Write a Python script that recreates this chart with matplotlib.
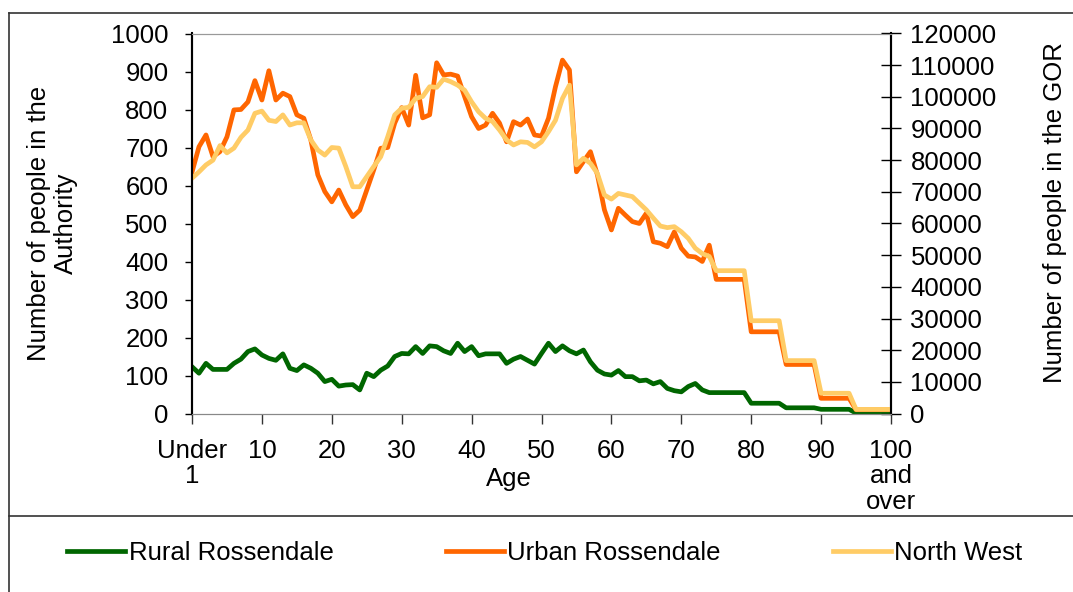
import matplotlib
matplotlib.use('Agg')
import matplotlib.pyplot as plt
from matplotlib.lines import Line2D
import numpy as np

plt.rcParams['font.family'] = ['Liberation Sans', 'DejaVu Sans']

# single years of age 0..100 (100 = "100 and over"); 75+ given in 5-year bands
ages = list(range(101))

rural = [123, 106, 132, 116, 116, 116, 132, 143, 163, 170,
         154, 145, 140, 157, 119, 113, 128, 119, 106, 84,
         90, 72, 75, 76, 62, 106, 97, 114, 125, 150,
         158, 157, 176, 158, 178, 176, 165, 158, 185, 163,
         176, 152, 157, 157, 157, 132, 143, 150, 140, 130,
         158, 185, 163, 178, 165, 157, 167, 136, 114, 104,
         101, 113, 97, 97, 86, 88, 78, 84, 66, 60,
         57, 71, 79, 62, 55] + [55] * 5 + [27] * 5 + [15] * 5 + [11] * 5 + [1] * 6

urban = [635, 702, 733, 676, 689, 728, 799, 800, 820, 876,
         825, 902, 825, 843, 834, 786, 777, 720, 628, 584,
         557, 588, 549, 518, 535, 588, 641, 698, 700, 764,
         805, 759, 890, 778, 786, 923, 891, 893, 888, 834,
         781, 750, 759, 790, 764, 715, 768, 759, 775, 733,
         730, 777, 860, 930, 904, 636, 663, 689, 628, 536,
         483, 540, 522, 505, 500, 527, 452, 448, 439, 478,
         435, 414, 412, 400, 443] + [353] * 5 + [215] * 5 + [129] * 5 + [40] * 5 + [10] * 6

north_west = [74300, 76300, 78500, 80000, 84600, 82300, 83800, 87200, 89500, 94800,
              95500, 92600, 92200, 94300, 91100, 91800, 91800, 86400, 83200, 81600,
              84000, 83800, 78000, 71600, 71600, 74800, 78000, 81100, 87400, 94300,
              96400, 96700, 99500, 100100, 103200, 103000, 105600, 104800, 103700, 102100,
              98400, 95300, 93200, 92200, 89500, 86400, 84800, 85800, 85600, 84200,
              85800, 89000, 92600, 99500, 103700, 78500, 80600, 79000, 75800, 69000,
              67700, 69500, 69000, 68500, 66400, 64300, 61700, 59200, 58700, 59000,
              57400, 55300, 52200, 50500, 49600] + [45100] * 5 + [29300] * 5 + [16700] * 5 + [6400] * 5 + [1300] * 6

x_ticks = [0, 10, 20, 30, 40, 50, 60, 70, 80, 90, 100]
x_labels = ['Under\n1', '10', '20', '30', '40', '50', '60', '70', '80', '90', '100\nand\nover']

GREEN = '#006600'
ORANGE = '#FF6600'
YELLOW = '#FFCC66'
FS = 18.5

W, H = 1073, 592
fig = plt.figure(figsize=(W / 100, H / 100), dpi=100)
ax = fig.add_axes([192 / W, 1 - 413.5 / H, (891 - 192) / W, 380 / H])
ax2 = ax.twinx()

l1, = ax.plot(ages, rural, color=GREEN, lw=3.4, label='Rural Rossendale')
l2, = ax.plot(ages, urban, color=ORANGE, lw=3.4, label='Urban Rossendale')
l3, = ax2.plot(ages, north_west, color=YELLOW, lw=3.4, label='North West')

ax.set_xlim(0, 100)
ax.set_ylim(0, 1000)
ax2.set_ylim(0, 120000)
ax.set_yticks(np.arange(0, 1001, 100))
ax2.set_yticks(np.arange(0, 120001, 10000))
ax.set_xticks(x_ticks)
ax.set_xticklabels(x_labels, fontsize=FS, linespacing=1.1)

ax.tick_params(axis='y', direction='out', length=5, width=1, labelsize=FS, pad=12)
ax.tick_params(axis='x', direction='out', length=7, width=1, color='#333333', pad=11)
ax2.tick_params(axis='y', direction='inout', length=14, width=1, labelsize=FS, pad=7)

for a in (ax, ax2):
    a.spines['top'].set_color('#999999')
    a.spines['bottom'].set_color('#888888')
    a.spines['left'].set_color('black')
    a.spines['right'].set_color('black')
    a.spines['left'].set_linewidth(1.5)
    a.spines['right'].set_linewidth(1.5)

ax.set_xlabel('Age', fontsize=FS)
ax.xaxis.set_label_coords((509 - 192) / 699, -0.14)
ax.set_ylabel('Number of people in the\nAuthority', fontsize=FS, linespacing=1.15)
ax.yaxis.set_label_coords(-0.163, 0.5)
ax2.set_ylabel('Number of people in the GOR', fontsize=FS)
ax2.yaxis.set_label_coords(1.217, 0.53)

fig.legend(handles=[l1, l2, l3], loc='center', bbox_to_anchor=(545 / W, 1 - 553 / H),
           ncol=3, frameon=False, fontsize=FS, handlelength=2.25, handletextpad=0.15,
           columnspacing=4.35)

# outer chart frame
fig.add_artist(Line2D([9 / W, 9 / W], [0, 1 - 13 / H], color='#333333', lw=1.2))
fig.add_artist(Line2D([9 / W, 1], [1 - 13 / H, 1 - 13 / H], color='#333333', lw=1.2))
fig.add_artist(Line2D([9 / W, 1], [1 - 516 / H, 1 - 516 / H], color='#333333', lw=1.2))

fig.savefig('out.png', dpi=100)
